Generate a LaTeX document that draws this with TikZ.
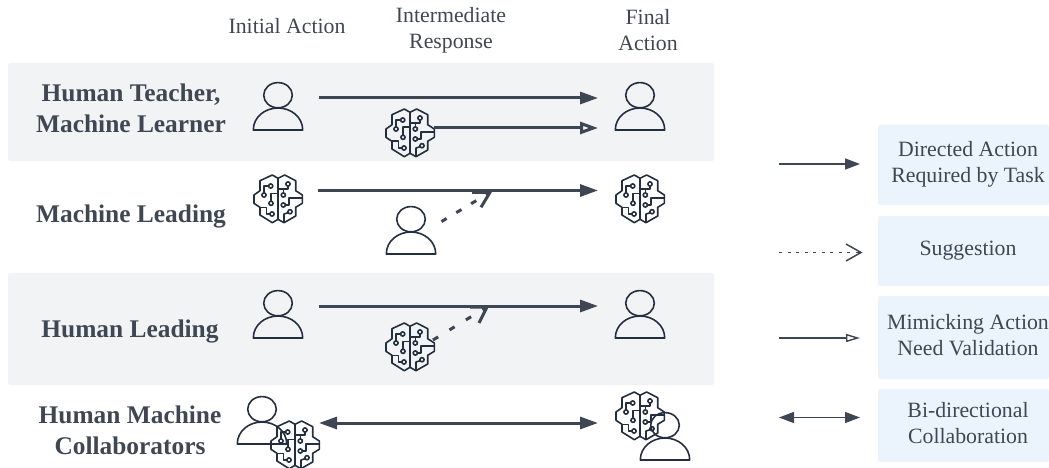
\documentclass[tikz,border=0pt]{standalone}
\usepackage{fontspec}
\setmainfont{Liberation Serif}
\usetikzlibrary{arrows.meta}
\definecolor{ink}{HTML}{232F3E}
\definecolor{txt}{HTML}{3F4753}
\definecolor{arrowc}{HTML}{3D4652}
\definecolor{band}{HTML}{F2F3F5}
\definecolor{legendbox}{HTML}{EBF3FC}
\tikzset{
  iconbox/.style={minimum size=50pt,inner sep=0pt,outer sep=0pt},
  iconline/.style={draw=ink,line width=1.6pt,line join=round},
  bandbox/.style={fill=band,rounded corners=2pt},
  legbox/.style={fill=legendbox,rounded corners=2pt},
  headtxt/.style={text=txt,align=center,font=\fontsize{21.8}{26}\selectfont},
  rowtxt/.style={text=txt,align=center,font=\fontsize{25.4}{31}\selectfont\bfseries},
  legtxt/.style={text=txt,align=center,font=\fontsize{21.8}{26}\selectfont},
  mainarrow/.style={draw=arrowc,line width=3pt,-{Triangle[length=18pt,width=12pt,fill=arrowc]}},
  openarrow/.style={draw=arrowc,line width=3pt,-{Triangle[open,length=18pt,width=12pt,fill=band]}},
  bidarrow/.style={draw=arrowc,line width=3pt,{Triangle[length=18pt,width=12pt]}-{Triangle[length=18pt,width=12pt]}},
  dasharrow/.style={draw=arrowc,line width=3pt},
  dashhead/.style={draw=arrowc,line width=3pt},
  legarrow/.style={draw=arrowc,line width=1.4pt,-{Triangle[length=15pt,width=11pt]}},
  legopen/.style={draw=arrowc,line width=1.4pt,-{Triangle[open,length=14pt,width=8pt,fill=white,line width=1.4pt]}},
  legdot/.style={draw=arrowc,line width=1.5pt,dash pattern=on 3pt off 5.5pt},
  legbar/.style={draw=arrowc,line width=1.5pt},
  legbid/.style={draw=arrowc,line width=1.4pt,{Triangle[length=15pt,width=11pt]}-{Triangle[length=15pt,width=11pt]}},
  personicon/.pic={
    \draw[iconline] (0,-12.8) ellipse [x radius=14.3,y radius=12.6];
    \draw[iconline] (-24.7,22) .. controls (-24.7,9) and (-13,0) .. (0,0) .. controls (13,0) and (24.7,9) .. (24.7,22) -- cycle;
  },
  brainicon/.pic={
    \draw[iconline] (0,-20.7) -- (-5.7,-24) -- (-18,-18.3) -- (-18,-8.3) -- (-24,-4) -- (-24,4.3) -- (-18,8.3) -- (-18,16) -- (-5.7,23.7) -- (0,20.3) -- (6,23.7) -- (17.7,17) -- (17.7,8.3) -- (24.3,4.3) -- (24.3,-4) -- (17.7,-8.3) -- (17.7,-18.3) -- (6.7,-24) -- cycle;
    \draw[iconline] (0,-20.7) -- (0,20.3);
    \draw[iconline] (-7.3,-13) circle [radius=2.1];
    \draw[iconline] (-14,-4) circle [radius=2.1];
    \draw[iconline] (-7,4.3) circle [radius=2.1];
    \draw[iconline] (-6,15) circle [radius=2.1];
    \draw[iconline] (10,-15) circle [radius=2.1];
    \draw[iconline] (5.3,-4) circle [radius=2.1];
    \draw[iconline] (5.3,6) circle [radius=2.1];
    \draw[iconline] (12,12.7) circle [radius=2.1];
    \draw[iconline] (-9.4,-13) -- (-14,-13) -- (-14,-6.1);
    \draw[iconline] (-7,2.2) -- (-7,-5.7) -- (0,-5.7);
    \draw[iconline] (-8.1,15) -- (-11.5,15) -- (-11.5,8.3) -- (-18,8.3);
    \draw[iconline] (10,-12.9) -- (10,-10) -- (0,-10);
    \draw[iconline] (5.3,-10) -- (5.3,-6.1);
    \draw[iconline] (7.4,6) -- (11,6) -- (11,-1) -- (24.3,-1);
    \draw[iconline] (10.2,13.7) -- (6,15) -- (6,23.7);
  }
}
\begin{document}
\begin{tikzpicture}[x=1pt,y=-1pt]
\useasboundingbox (0,0) rectangle (1049,468);
% bands
\path[bandbox] (8,63) rectangle (714,161);
\path[bandbox] (8,273) rectangle (714,385);
% column headings
\node[headtxt] (hA) at (287,26) {Initial Action};
\node[headtxt] (hB) at (451,30) {Intermediate\\Response};
\node[headtxt] (hC) at (648,30.5) {Final\\Action};
% row labels
\node[rowtxt] (r1) at (131,108) {Human Teacher,\\Machine Learner};
\node[rowtxt] (r2) at (131,216.5) {Machine Leading};
\node[rowtxt] (r3) at (130,331.5) {Human Leading};
\node[rowtxt] (r4) at (130,430) {Human Machine\\Collaborators};
% icons
\node[iconbox] (p1a) at (278,108) {}; \pic at (p1a) {personicon};
\node[iconbox] (b1b) at (410,133) {}; \pic at (b1b) {brainicon};
\node[iconbox] (p1c) at (640,108) {}; \pic at (p1c) {personicon};
\node[iconbox] (b2a) at (278,199) {}; \pic at (b2a) {brainicon};
\node[iconbox] (p2b) at (411,232) {}; \pic at (p2b) {personicon};
\node[iconbox] (b2c) at (640,199) {}; \pic at (b2c) {brainicon};
\node[iconbox] (p3a) at (278,316) {}; \pic at (p3a) {personicon};
\node[iconbox] (b3b) at (410,347) {}; \pic at (b3b) {brainicon};
\node[iconbox] (p3c) at (640,316) {}; \pic at (p3c) {personicon};
\node[iconbox] (p4a) at (262,422) {}; \pic at (p4a) {personicon};
\node[iconbox] (b4a) at (295,445) {}; \pic at (b4a) {brainicon};
\node[iconbox] (b4c) at (640,416) {}; \pic at (b4c) {brainicon};
\node[iconbox] (p4c) at (665,438) {}; \pic at (p4c) {personicon};
% connectors
\draw[mainarrow] ([shift={(16,-10)}]p1a.east) -- ([shift={(-17,-10)}]p1c.west);
\draw[openarrow] ([shift={(-1,-5)}]b1b.east) -- ([shift={(-17,20)}]p1c.west);
\draw[mainarrow] ([shift={(15,-8.5)}]b2a.east) -- ([shift={(-17,-8.5)}]b2c.west);
\draw[mainarrow] ([shift={(16,-10)}]p3a.east) -- ([shift={(-17,-10)}]p3c.west);
\draw[bidarrow] ([shift={(-1,-22)}]b4a.east) -- ([shift={(-17,7)}]b4c.west);
\coordinate (h2) at (490,192.3);
\coordinate (h3) at (487,307);
\draw[dasharrow,dash pattern=on 6pt off 11.3pt] ([shift={(5.5,-10.4)}]p2b.east) -- (h2);
\draw[dashhead] ([shift={(-18,0)}]h2) -- (h2) -- ([shift={(-9,15)}]h2);
\draw[dasharrow,dash pattern=on 6pt off 13.3pt] ([shift={(-2,-7)}]b3b.east) -- (h3);
\draw[dashhead] ([shift={(-17,0)}]h3) -- (h3) -- ([shift={(-8,16)}]h3);
% legend boxes
\path[legbox] (878,125) rectangle (1049,205) node[midway,inner sep=0pt] (l1) {};
\path[legbox] (878,216) rectangle (1049,286) node[midway,inner sep=0pt] (l2) {};
\path[legbox] (878,296) rectangle (1049,379) node[midway,inner sep=0pt] (l3) {};
\path[legbox] (878,389) rectangle (1049,462) node[midway,inner sep=0pt] (l4) {};
\node[legtxt] (t1) at (968,164.5) {Directed Action\\Required by Task};
\node[legtxt] (t2) at (968,251) {Suggestion};
\node[legtxt] (t3) at (968,335) {Mimicking Action\\Need Validation};
\node[legtxt] (t4) at (968,423) {Bi-directional\\Collaboration};
% legend arrows
\coordinate (s1) at (779,164);
\coordinate (s2) at (779,252.5);
\coordinate (s3) at (779,338);
\coordinate (s4) at (779,417.5);
\coordinate (e1) at (860,164);
\coordinate (e2) at (861,252.5);
\coordinate (e3) at (860,338);
\coordinate (e4) at (860,417.5);
\draw[legarrow] (s1) -- (e1);
\draw[legdot] (s2) -- ([shift={(-2,0)}]e2);
\draw[legbar] ([shift={(-15,-8.5)}]e2) -- (e2) -- ([shift={(-15,8.5)}]e2);
\draw[legopen] (s3) -- (e3);
\draw[legbid] (s4) -- (e4);
\end{tikzpicture}
\end{document}
